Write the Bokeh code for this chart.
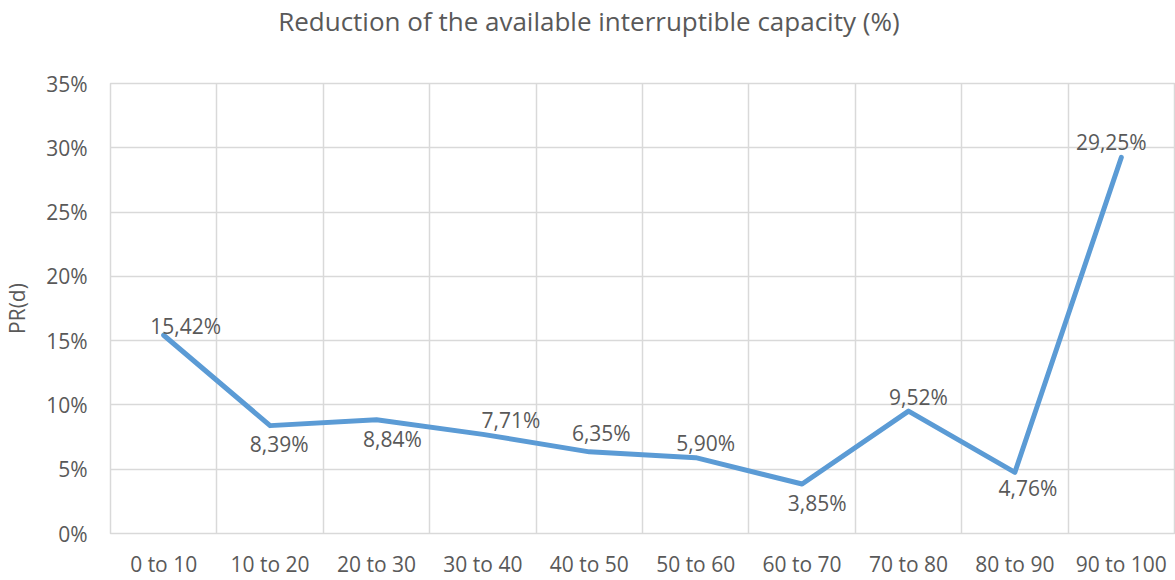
from bokeh.plotting import figure
from bokeh.models import Range1d, FixedTicker, ColumnDataSource, Title
from bokeh.embed import file_html
from bokeh.resources import INLINE
from bokeh.core.properties import value

# ---- data ----
categories = ["0 to 10", "10 to 20", "20 to 30", "30 to 40", "40 to 50",
              "50 to 60", "60 to 70", "70 to 80", "80 to 90", "90 to 100"]
pr_values = [15.42, 8.39, 8.84, 7.71, 6.35, 5.90, 3.85, 9.52, 4.76, 29.25]
y_ticks = [0, 5, 10, 15, 20, 25, 30, 35]
title_text = "Reduction of the available interruptible capacity (%)"
y_label = "PR(d)"

# ---- layout / style ----
W, H = 1175, 580
LEFT, RIGHT, TOP, BOTTOM = 110, 1, 81, 46
FONT = "Open Sans"
TXT = "#595959"
GRID = "#D9D9D9"
LINE = "#5B9BD5"
FS = "21px"
TITLE_FS = 26
TITLE_EM = 23.95          # approx. width of the title in em for Open Sans
TITLE_CENTER = 589
# data label offsets in screen px (label centre relative to point)
label_dx = [22, 9, 16, 28, 12, 10, 15, 10, 13, -10]
label_dy = [-9, 18, 19, -14, -19, -15, 19, -14, 16, -15]

n = len(categories)
xs = [i + 0.5 for i in range(n)]
labels = [f"{v:.2f}".replace(".", ",") + "%" for v in pr_values]

src = ColumnDataSource(dict(x=xs, y=pr_values, lab=labels, dx=label_dx, dy=label_dy))

p = figure(width=W, height=H, output_backend="svg", toolbar_location=None,
           x_range=Range1d(0, n), y_range=Range1d(y_ticks[0], y_ticks[-1]),
           min_border_left=LEFT, min_border_right=RIGHT,
           min_border_top=TOP, min_border_bottom=BOTTOM)
p.outline_line_color = GRID
p.outline_line_width = 1.5
p.background_fill_color = "white"
p.border_fill_color = "white"

# grids
p.xgrid.ticker = FixedTicker(ticks=list(range(1, n)))
p.ygrid.ticker = FixedTicker(ticks=y_ticks)
for g in (p.xgrid, p.ygrid):
    g.grid_line_color = GRID
    g.grid_line_width = 1.5

# axes
p.xaxis.ticker = FixedTicker(ticks=xs)
p.xaxis.major_label_overrides = {x: c for x, c in zip(xs, categories)}
p.yaxis.ticker = FixedTicker(ticks=y_ticks)
p.yaxis.major_label_overrides = {t: f"{t}%" for t in y_ticks}
for ax in (p.xaxis, p.yaxis):
    ax.axis_line_color = None
    ax.major_tick_line_color = None
    ax.minor_tick_line_color = None
    ax.major_label_text_font = FONT
    ax.major_label_text_font_size = FS
    ax.major_label_text_color = TXT
p.xaxis.major_label_standoff = 10
p.yaxis.major_label_standoff = 17
p.yaxis.axis_label = y_label
p.yaxis.axis_label_text_font = FONT
p.yaxis.axis_label_text_font_size = FS
p.yaxis.axis_label_text_font_style = "normal"
p.yaxis.axis_label_text_color = TXT
p.yaxis.axis_label_standoff = 12

# line
p.line("x", "y", source=src, line_color=LINE, line_width=5,
       line_join="round", line_cap="round")

# data labels
p.text("x", "y", text="lab", source=src, x_offset="dx", y_offset="dy",
       text_align="center", text_baseline="middle",
       text_font=value(FONT), text_font_size=FS, text_color=TXT)

# title: a spacer panel next to the frame, then the real title above it
spacer = Title(text=" ", text_font_size="1px", standoff=42)
p.add_layout(spacer, "above")
title_w = TITLE_FS * TITLE_EM
main_title = Title(text=title_text, text_font=FONT, text_font_size=f"{TITLE_FS}px",
                   text_font_style="normal", text_color=TXT, align="left",
                   offset=TITLE_CENTER - LEFT - title_w / 2, standoff=0)
p.add_layout(main_title, "above")

open("out.html", "w").write(file_html(p, INLINE))
